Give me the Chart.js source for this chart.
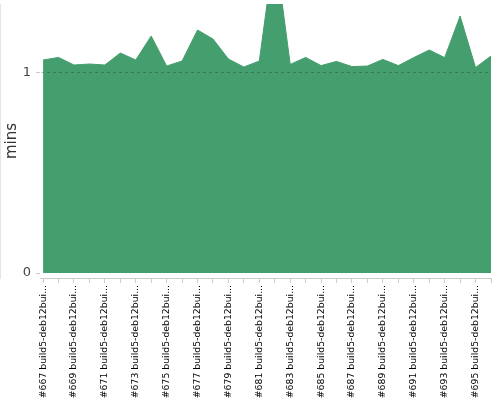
<!DOCTYPE html>
<html>
<head>
<meta charset="utf-8">
<script src="https://cdn.jsdelivr.net/npm/chart.js@4"></script>
<style>
  html, body { margin: 0; padding: 0; background: #fff; }
  #wrap { width: 500px; height: 400px; }
</style>
</head>
<body>
<div id="wrap"><canvas id="buildChart" width="500" height="400"></canvas></div>
<script>
// Build names (x categories)
const builds = [
    "#667 build5-deb12builder", "#668 build5-deb12builder", "#669 build5-deb12builder",
    "#670 build5-deb12builder", "#671 build5-deb12builder", "#672 build5-deb12builder",
    "#673 build5-deb12builder", "#674 build5-deb12builder", "#675 build5-deb12builder",
    "#676 build5-deb12builder", "#677 build5-deb12builder", "#678 build5-deb12builder",
    "#679 build5-deb12builder", "#680 build5-deb12builder", "#681 build5-deb12builder",
    "#682 build5-deb12builder", "#683 build5-deb12builder", "#684 build5-deb12builder",
    "#685 build5-deb12builder", "#686 build5-deb12builder", "#687 build5-deb12builder",
    "#688 build5-deb12builder", "#689 build5-deb12builder", "#690 build5-deb12builder",
    "#691 build5-deb12builder", "#692 build5-deb12builder", "#693 build5-deb12builder",
    "#694 build5-deb12builder", "#695 build5-deb12builder", "#696 build5-deb12builder"
];

// Build duration in minutes
const durations = [
    1.065, 1.078, 1.040, 1.045, 1.040, 1.100, 1.065, 1.185, 1.035, 1.060,
    1.215, 1.170, 1.070, 1.030, 1.060, 1.630, 1.043, 1.078, 1.037, 1.058,
    1.032, 1.035, 1.068, 1.037, 1.077, 1.115, 1.077, 1.285, 1.027, 1.085
];

// Y axis tick values
const yTicks = [0, 1];

function shortLabel(s) {
    return s.length > 20 ? s.substring(0, 20) + "..." : s;
}

const ctx = document.getElementById("buildChart").getContext("2d");
const buildChart = new Chart(ctx, {
    type: 'line',
    data: {
        datasets: [{
            label: 'Duration',
            data: durations.map((v, i) => ({ x: i, y: v })),
            borderColor: '#459e6e',
            borderWidth: 1,
            backgroundColor: '#459e6e',
            fill: 'origin',
            pointRadius: 0,
            tension: 0
        }]
    },
    options: {
        responsive: false,
        animation: false,
        layout: { padding: { top: 4, right: 9, bottom: 0, left: 0 } },
        plugins: {
            legend: { display: false },
            tooltip: { enabled: false }
        },
        scales: {
            x: {
                type: 'linear',
                min: -0.2,
                max: builds.length - 1,
                afterBuildTicks: (scale) => {
                    scale.ticks = builds.map((_, i) => ({ value: i }));
                },
                afterFit: (scale) => {
                    scale.height = 122;
                    scale.paddingLeft = 0;
                    scale.paddingRight = 0;
                },
                grid: {
                    drawOnChartArea: false,
                    tickLength: 5,
                    tickColor: '#cccccc'
                },
                border: { color: '#cccccc' },
                ticks: {
                    autoSkip: false,
                    minRotation: 90,
                    maxRotation: 90,
                    padding: 2,
                    color: '#000',
                    font: { family: 'DejaVu Sans', size: 9.3 },
                    callback: (value, index) => index % 2 === 0 ? shortLabel(builds[value]) : ''
                }
            },
            y: {
                min: -0.025,
                max: 1.345,
                afterBuildTicks: (scale) => {
                    scale.ticks = yTicks.map(v => ({ value: v }));
                },
                afterFit: (scale) => {
                    scale.width = 40;
                    scale.paddingTop = 0;
                    scale.paddingBottom = 0;
                },
                grid: {
                    z: 1,
                    color: (c) => (c.tick && c.tick.value === 1) ? 'rgba(0,0,0,0.22)' : 'rgba(0,0,0,0)',
                    tickColor: '#cccccc',
                    tickLength: 4
                },
                border: { color: '#cccccc', dash: [3, 3] },
                ticks: {
                    padding: 5,
                    color: '#444',
                    font: { family: 'DejaVu Sans', size: 13 }
                },
                title: {
                    display: true,
                    text: 'mins',
                    color: '#333',
                    padding: { top: 3, bottom: 0 },
                    font: { family: 'DejaVu Sans', size: 15 }
                }
            }
        }
    }
});
</script>
</body>
</html>
